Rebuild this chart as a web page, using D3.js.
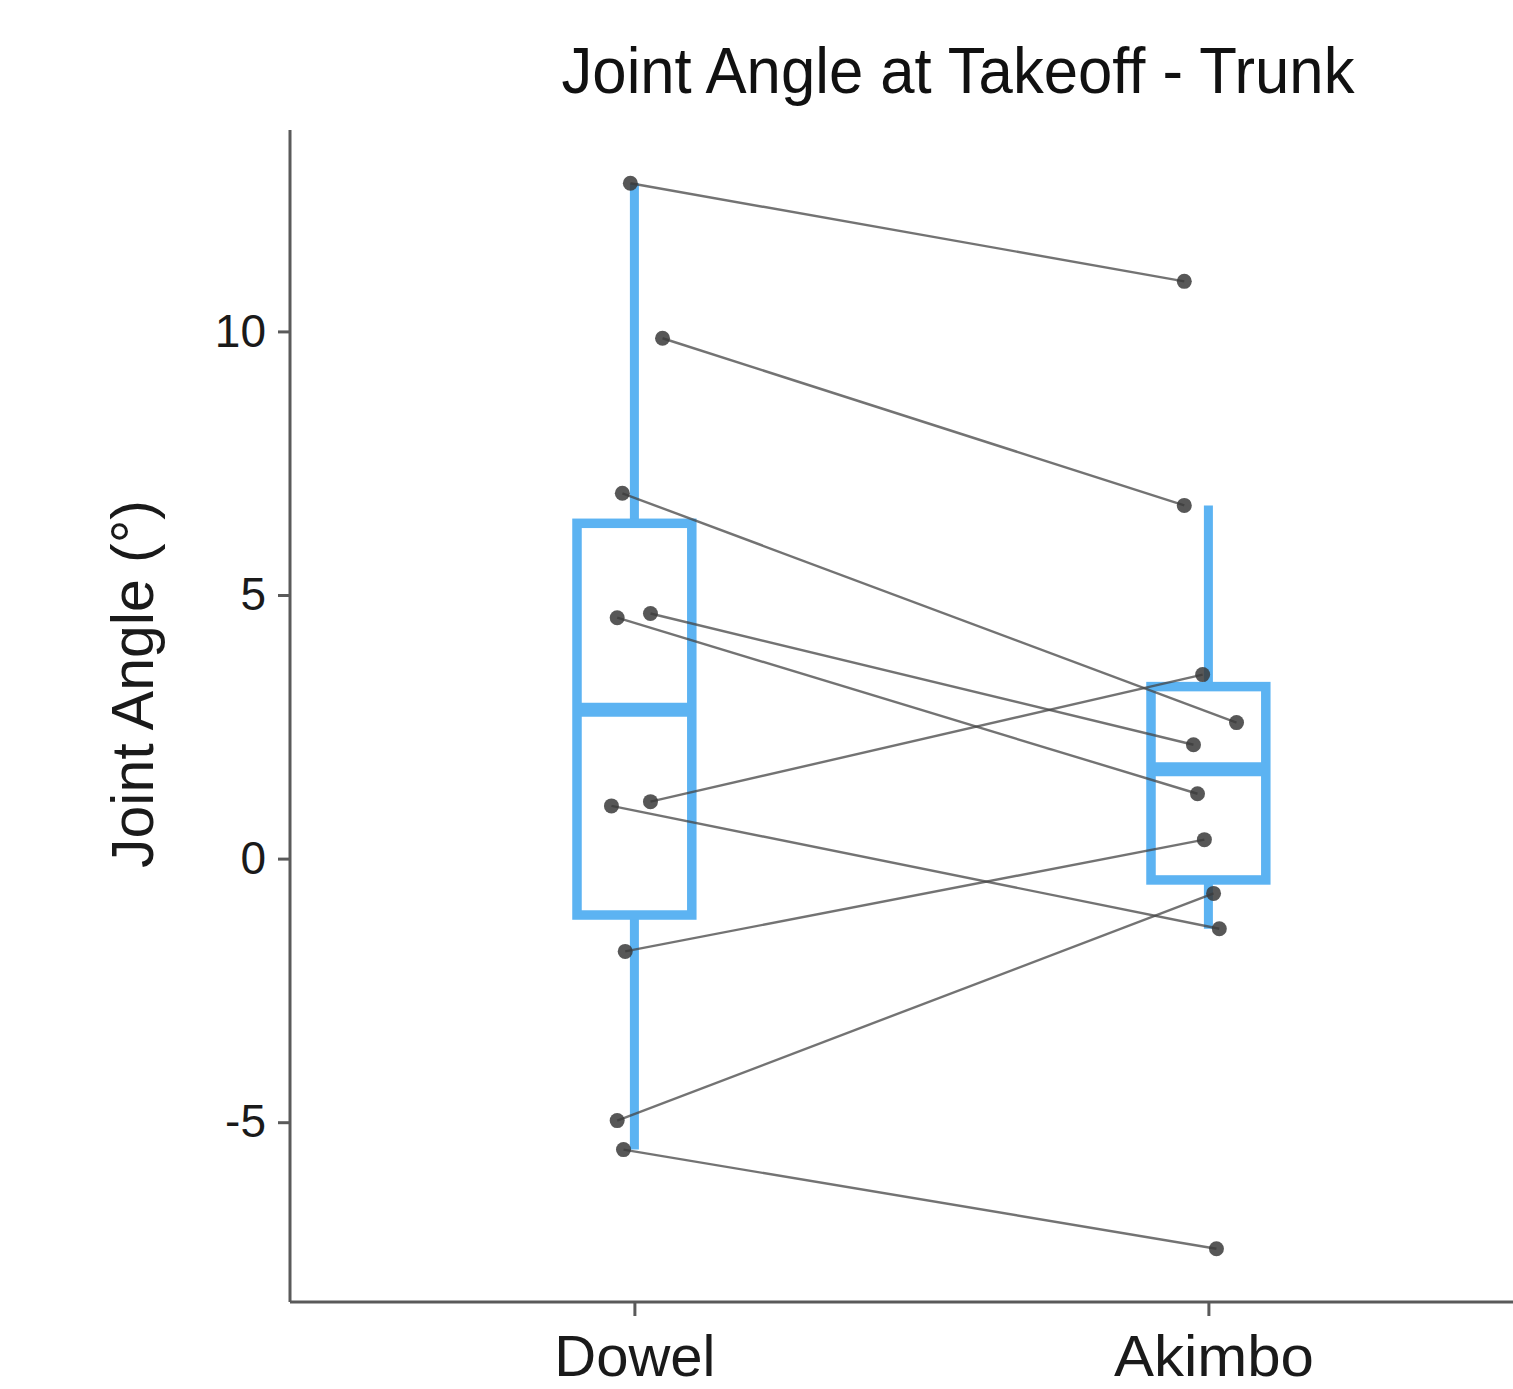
<!DOCTYPE html>
<html>
<head>
<meta charset="utf-8">
<script src="https://cdn.jsdelivr.net/npm/d3@7"></script>
<style>
html,body{margin:0;padding:0;background:#fff;overflow:hidden;}
svg{display:block;}
</style>
</head>
<body>
<svg id="chart" width="1513" height="1389"></svg>
<script>
// ---- data ----
const categories = ["Dowel", "Akimbo"];
const dowelValues  = [12.81, 9.87, 6.93, 4.65, 4.57, 1.08, 1.00, -1.76, -4.97, -5.52];
const akimboValues = [10.95, 6.70, 2.58, 2.16, 1.23, 3.49, -1.33, 0.36, -0.66, -7.40];
// jitter offsets (category units) as drawn
const dowelJitter  = [-0.007, 0.049, -0.021, 0.028, -0.030, 0.028, -0.040, -0.016, -0.030, -0.019];
const akimboJitter = [-0.042, -0.042, 0.049, -0.026, -0.019, -0.010, 0.019, -0.007, 0.009, 0.014];
const yTicks = [-5, 0, 5, 10];
const title = "Joint Angle at Takeoff - Trunk";
const yTitle = "Joint Angle (°)";

(function () {
// ---- layout ----
const svg = d3.select("#chart");
const pLeft = 290, pRight = 1552.8, pTop = 130, pBottom = 1302;
const allVals = dowelValues.concat(akimboValues);
const ext = d3.extent(allVals);
const pad = (ext[1] - ext[0]) * 0.05;
const y = d3.scaleLinear().domain([ext[0] - pad, ext[1] + pad]).range([pBottom, pTop]);
const x = d3.scalePoint().domain(categories).range([pLeft, pRight]).padding(0.6);
const step = x.step();

const blue = "#5cb3f2";
const groups = [dowelValues, akimboValues];

// ---- boxplots ----
const boxW = 0.2 * step;
groups.forEach((vals, i) => {
  const s = vals.slice().sort(d3.ascending);
  const q1 = d3.quantile(s, 0.25), med = d3.quantile(s, 0.5), q3 = d3.quantile(s, 0.75);
  const iqr = q3 - q1;
  const lo = d3.min(s.filter(v => v >= q1 - 1.5 * iqr));
  const hi = d3.max(s.filter(v => v <= q3 + 1.5 * iqr));
  const cx = x(categories[i]);
  const g = svg.append("g");
  g.append("line").attr("x1", cx).attr("x2", cx).attr("y1", y(hi)).attr("y2", y(q3))
    .attr("stroke", blue).attr("stroke-width", 9);
  g.append("line").attr("x1", cx).attr("x2", cx).attr("y1", y(q1)).attr("y2", y(lo))
    .attr("stroke", blue).attr("stroke-width", 9);
  g.append("rect").attr("x", cx - boxW / 2).attr("width", boxW)
    .attr("y", y(q3)).attr("height", y(q1) - y(q3))
    .attr("fill", "#fff").attr("stroke", blue).attr("stroke-width", 9.5);
  g.append("line").attr("x1", cx - boxW / 2).attr("x2", cx + boxW / 2)
    .attr("y1", y(med)).attr("y2", y(med))
    .attr("stroke", blue).attr("stroke-width", 14);
});

// ---- paired lines ----
const pairs = dowelValues.map((d, i) => ({
  d, a: akimboValues[i], dj: dowelJitter[i], aj: akimboJitter[i]
}));
svg.append("g").selectAll("line").data(pairs).join("line")
  .attr("x1", p => x(categories[0]) + p.dj * step)
  .attr("y1", p => y(p.d))
  .attr("x2", p => x(categories[1]) + p.aj * step)
  .attr("y2", p => y(p.a))
  .attr("stroke", "#444").attr("stroke-opacity", 0.75).attr("stroke-width", 2.4);

// ---- points ----
const pts = [];
pairs.forEach(p => {
  pts.push({cx: x(categories[0]) + p.dj * step, v: p.d});
  pts.push({cx: x(categories[1]) + p.aj * step, v: p.a});
});
svg.append("g").selectAll("circle").data(pts).join("circle")
  .attr("cx", p => p.cx).attr("cy", p => y(p.v)).attr("r", 7.5)
  .attr("fill", "#3a3a3a").attr("fill-opacity", 0.85);

// ---- axes ----
const axisColor = "#5a5a5a";
const yAxis = svg.append("g").attr("transform", `translate(${pLeft},0)`)
  .call(d3.axisLeft(y).tickValues(yTicks).tickSize(12).tickPadding(12).tickFormat(d3.format("d")));
yAxis.select(".domain").attr("d", `M0,${pTop}V${pBottom}`).attr("stroke", axisColor).attr("stroke-width", 3);
yAxis.selectAll(".tick line").attr("stroke", axisColor).attr("stroke-width", 3);
yAxis.selectAll(".tick text").attr("font-family", "Liberation Sans, Arial, sans-serif")
  .attr("font-size", 46).attr("fill", "#1a1a1a").text(d => d < 0 ? "-" + Math.abs(d) : d);

const xAxis = svg.append("g").attr("transform", `translate(0,${pBottom})`)
  .call(d3.axisBottom(x).tickSize(14).tickPadding(10));
xAxis.select(".domain").attr("d", `M${pLeft},0H1513`).attr("stroke", axisColor).attr("stroke-width", 3);
xAxis.selectAll(".tick line").attr("stroke", axisColor).attr("stroke-width", 3);
xAxis.selectAll(".tick text").attr("font-family", "Liberation Sans, Arial, sans-serif")
  .attr("font-size", 58).attr("fill", "#1a1a1a").attr("dy", null).attr("y", 74);
xAxis.selectAll(".tick text").filter(d => d === "Akimbo")
  .attr("textLength", 200).attr("lengthAdjust", "spacingAndGlyphs").attr("dx", 5);

// ---- titles ----
svg.append("text").attr("x", 958).attr("y", 93).attr("text-anchor", "middle")
  .attr("font-family", "Liberation Sans Narrow, Arial Narrow, sans-serif")
  .attr("font-size", 65).attr("fill", "#111")
  .attr("textLength", 793).attr("lengthAdjust", "spacingAndGlyphs")
  .text(title);

svg.append("text").attr("transform", "translate(153,684) rotate(-90)")
  .attr("text-anchor", "middle")
  .attr("font-family", "Liberation Sans, Arial, sans-serif")
  .attr("font-size", 59).attr("fill", "#1a1a1a")
  .text(yTitle);
})();
</script>
</body>
</html>
